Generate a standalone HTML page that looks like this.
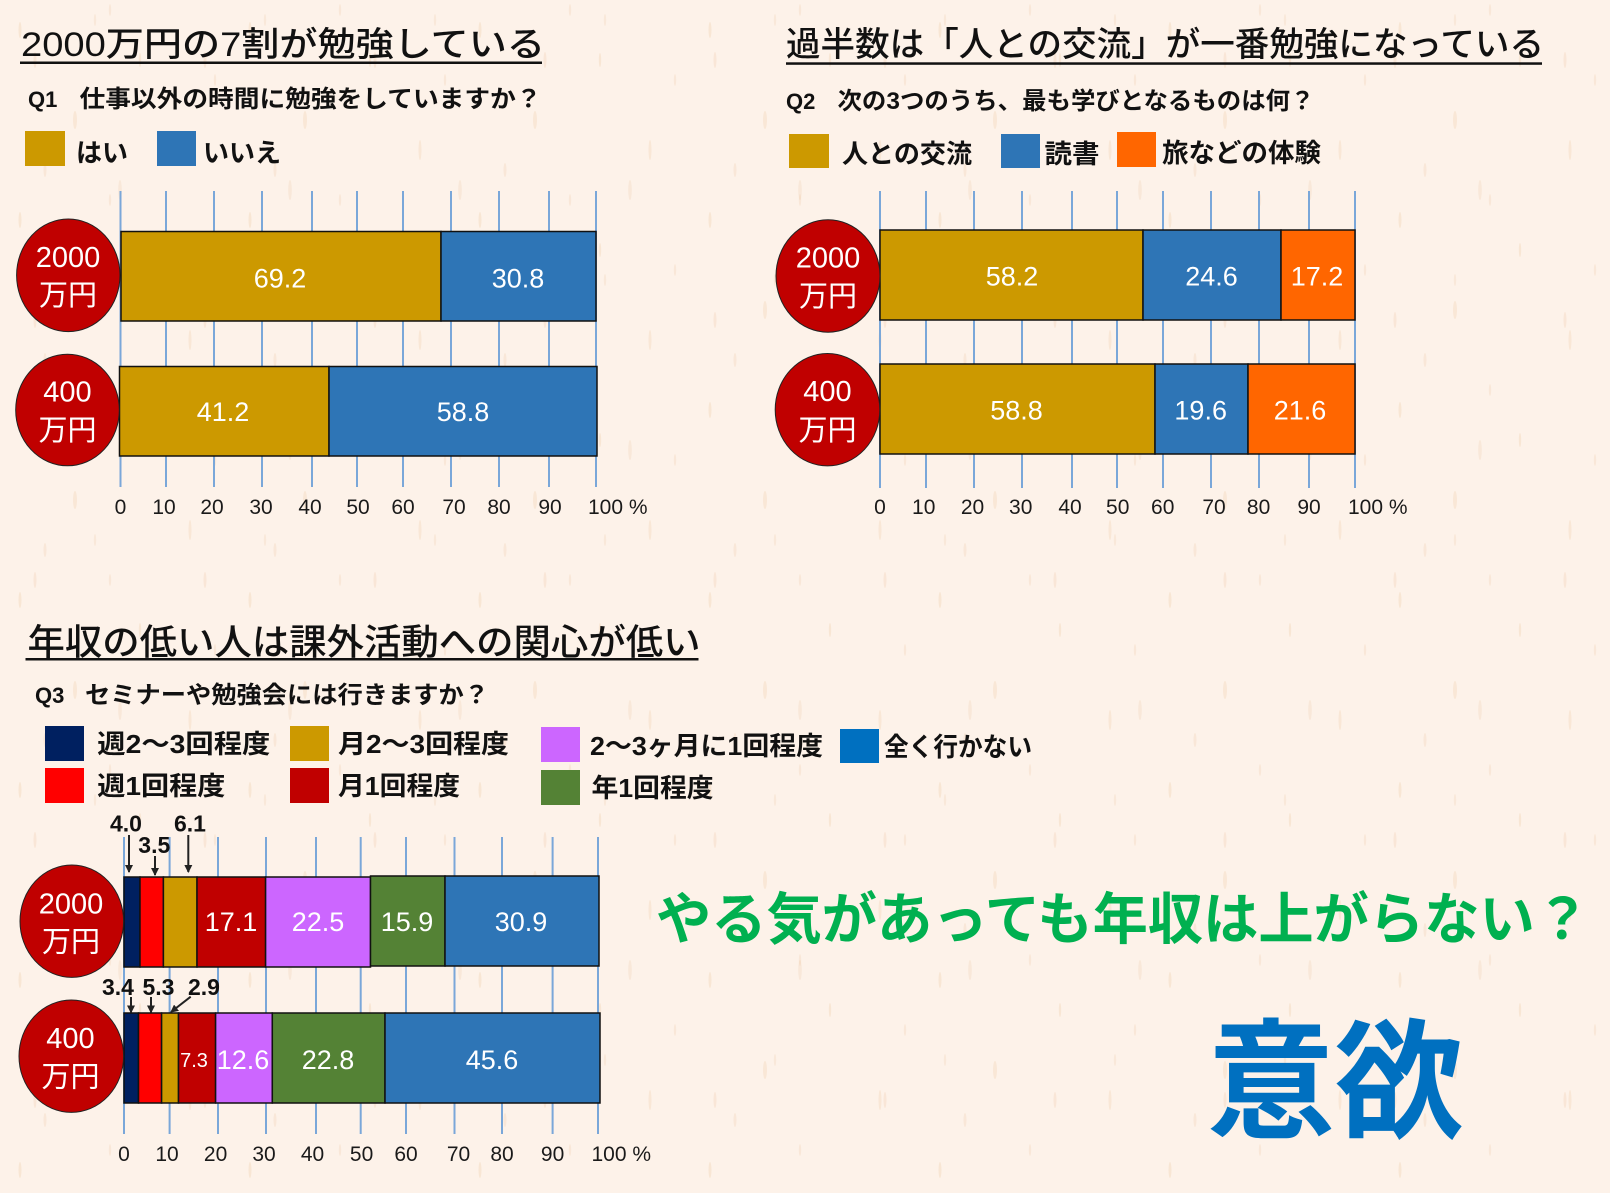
<!DOCTYPE html>
<html><head><meta charset="utf-8">
<style>
html,body{margin:0;padding:0;width:1610px;height:1196px;overflow:hidden;background:#fdf2e9;}
svg{display:block}
text{font-family:"Liberation Sans","Noto Sans CJK JP",sans-serif;}
.tk{font-size:21px;fill:#1a1a1a;text-anchor:middle;}
.tk100{font-size:21px;fill:#1a1a1a;}
.bl{font-size:27px;fill:#fff;text-anchor:middle;}
.cl{font-size:29px;fill:#fff;text-anchor:middle;}
.ann{font-size:23px;font-weight:bold;fill:#111;}
.lg{font-size:26px;font-weight:bold;fill:#111;}
</style></head><body>
<svg width="1610" height="1196" viewBox="0 0 1610 1196" xmlns="http://www.w3.org/2000/svg">
<defs>
<pattern id="sp" width="230" height="190" patternUnits="userSpaceOnUse">
<ellipse cx="20" cy="30" rx="1.5" ry="8" fill="#eab98a" opacity="0.22"/>
<ellipse cx="75" cy="120" rx="2" ry="9" fill="#eab98a" opacity="0.2"/>
<ellipse cx="140" cy="60" rx="1.2" ry="7" fill="#eab98a" opacity="0.22"/>
<ellipse cx="190" cy="150" rx="1.5" ry="10" fill="#eab98a" opacity="0.2"/>
<ellipse cx="110" cy="10" rx="1.2" ry="6" fill="#eab98a" opacity="0.18"/>
<ellipse cx="45" cy="170" rx="1.5" ry="7" fill="#eab98a" opacity="0.18"/>
<ellipse cx="215" cy="80" rx="1.2" ry="6" fill="#eab98a" opacity="0.18"/>
</pattern>
<pattern id="sp2" width="170" height="260" patternUnits="userSpaceOnUse">
<ellipse cx="35" cy="60" rx="1.5" ry="8" fill="#e8b383" opacity="0.18"/>
<ellipse cx="120" cy="190" rx="1.8" ry="10" fill="#e8b383" opacity="0.16"/>
<ellipse cx="95" cy="20" rx="1.2" ry="6" fill="#e8b383" opacity="0.16"/>
</pattern>
<marker id="ah" markerWidth="8" markerHeight="8" refX="7" refY="4" orient="auto" markerUnits="userSpaceOnUse">
<path d="M0,0 L8,4 L0,8 Z" fill="#222"/>
</marker>
</defs>
<rect width="1610" height="1196" fill="#fdf2e9"/>
<rect width="1610" height="1193" fill="url(#sp)"/>
<rect width="1610" height="1193" fill="url(#sp2)"/>
<rect y="1193" width="1610" height="3" fill="#ffffff"/>

<!-- ===== Q1 ===== -->
<text x="21" y="56" font-size="34" font-weight="500" textLength="524" lengthAdjust="spacingAndGlyphs" fill="#111">2000万円の7割が勉強している</text>
<rect x="20" y="61.5" width="522" height="2.5" fill="#111"/>
<text x="28" y="107" font-size="22" font-weight="bold" fill="#111">Q1</text>
<text x="79.5" y="107" font-size="24" font-weight="bold" fill="#111" textLength="462" lengthAdjust="spacingAndGlyphs">仕事以外の時間に勉強をしていますか？</text>
<rect x="25" y="131" width="40" height="35" fill="#cc9900"/>
<text class="lg" x="76" y="162" textLength="52" lengthAdjust="spacingAndGlyphs">はい</text>
<rect x="157" y="131" width="39" height="35" fill="#2e75b6"/>
<text class="lg" x="203" y="162" textLength="78" lengthAdjust="spacingAndGlyphs">いいえ</text>

<g stroke="#7aa7d9" stroke-width="2">
<line x1="120.5" y1="191" x2="120.5" y2="487"/><line x1="166" y1="191" x2="166" y2="487"/>
<line x1="214" y1="191" x2="214" y2="487"/><line x1="262" y1="191" x2="262" y2="487"/>
<line x1="312" y1="191" x2="312" y2="487"/><line x1="357" y1="191" x2="357" y2="487"/>
<line x1="403" y1="191" x2="403" y2="487"/><line x1="451" y1="191" x2="451" y2="487"/>
<line x1="499" y1="191" x2="499" y2="487"/><line x1="549" y1="191" x2="549" y2="487"/>
<line x1="596" y1="191" x2="596" y2="487"/>
</g>
<g stroke="#111" stroke-width="1.5">
<rect x="121" y="231.5" width="320" height="89.5" fill="#cc9900"/>
<rect x="441" y="231.5" width="155" height="89.5" fill="#2e75b6"/>
<rect x="119.5" y="366.5" width="209.5" height="89.5" fill="#cc9900"/>
<rect x="329" y="366.5" width="268" height="89.5" fill="#2e75b6"/>
</g>
<text class="bl" x="280" y="287.5">69.2</text>
<text class="bl" x="518" y="287.5">30.8</text>
<text class="bl" x="223" y="421">41.2</text>
<text class="bl" x="463" y="421">58.8</text>
<ellipse cx="68.3" cy="275.3" rx="51.7" ry="56.3" fill="#c00000" stroke="#222" stroke-width="1"/>
<ellipse cx="67.5" cy="410" rx="51.8" ry="55.8" fill="#c00000" stroke="#222" stroke-width="1"/>
<text class="cl" x="68" y="267">2000</text>
<text class="cl" x="68" y="305">万円</text>
<text class="cl" x="67.5" y="401.5">400</text>
<text class="cl" x="67.5" y="440">万円</text>
<g>
<text class="tk" x="120.5" y="514">0</text><text class="tk" x="164" y="514">10</text>
<text class="tk" x="212" y="514">20</text><text class="tk" x="261" y="514">30</text>
<text class="tk" x="310" y="514">40</text><text class="tk" x="358" y="514">50</text>
<text class="tk" x="403" y="514">60</text><text class="tk" x="454" y="514">70</text>
<text class="tk" x="499" y="514">80</text><text class="tk" x="550" y="514">90</text>
<text class="tk100" x="588" y="514">100 %</text>
</g>

<!-- ===== Q2 ===== -->
<text x="786" y="56" font-size="34" font-weight="500" textLength="758" lengthAdjust="spacingAndGlyphs" fill="#111">過半数は「人との交流」が一番勉強になっている</text>
<rect x="786" y="62.3" width="756" height="2.5" fill="#111"/>
<text x="786" y="109" font-size="22" font-weight="bold" fill="#111">Q2</text>
<text x="837.5" y="109" font-size="24" font-weight="bold" fill="#111" textLength="477" lengthAdjust="spacingAndGlyphs">次の3つのうち、最も学びとなるものは何？</text>
<rect x="789" y="134" width="40" height="34" fill="#cc9900"/>
<text class="lg" x="842" y="163" textLength="130" lengthAdjust="spacingAndGlyphs">人との交流</text>
<rect x="1001" y="134" width="39" height="34" fill="#2e75b6"/>
<text class="lg" x="1044.5" y="163" textLength="55" lengthAdjust="spacingAndGlyphs">読書</text>
<rect x="1117" y="132" width="39" height="35" fill="#ff6600"/>
<text class="lg" x="1162" y="162" textLength="159" lengthAdjust="spacingAndGlyphs">旅などの体験</text>

<g stroke="#7aa7d9" stroke-width="2">
<line x1="880" y1="191" x2="880" y2="488"/><line x1="926" y1="191" x2="926" y2="488"/>
<line x1="974" y1="191" x2="974" y2="488"/><line x1="1022" y1="191" x2="1022" y2="488"/>
<line x1="1072" y1="191" x2="1072" y2="488"/><line x1="1117" y1="191" x2="1117" y2="488"/>
<line x1="1163" y1="191" x2="1163" y2="488"/><line x1="1211" y1="191" x2="1211" y2="488"/>
<line x1="1259" y1="191" x2="1259" y2="488"/><line x1="1309" y1="191" x2="1309" y2="488"/>
<line x1="1355" y1="191" x2="1355" y2="488"/>
</g>
<g stroke="#111" stroke-width="1.5">
<rect x="880" y="230" width="263" height="90" fill="#cc9900"/>
<rect x="1143" y="230" width="138" height="90" fill="#2e75b6"/>
<rect x="1281" y="230" width="74" height="90" fill="#ff6600"/>
<rect x="880" y="364" width="275" height="90" fill="#cc9900"/>
<rect x="1155" y="364" width="93" height="90" fill="#2e75b6"/>
<rect x="1248" y="364" width="107" height="90" fill="#ff6600"/>
</g>
<text class="bl" x="1012" y="285.5">58.2</text>
<text class="bl" x="1211.5" y="285.5">24.6</text>
<text class="bl" x="1317" y="285.5">17.2</text>
<text class="bl" x="1016.5" y="419.5">58.8</text>
<text class="bl" x="1200.7" y="419.5">19.6</text>
<text class="bl" x="1300" y="419.5">21.6</text>
<ellipse cx="828" cy="276" rx="52" ry="56.2" fill="#c00000" stroke="#222" stroke-width="1"/>
<ellipse cx="827.5" cy="409.7" rx="52.3" ry="56.2" fill="#c00000" stroke="#222" stroke-width="1"/>
<text class="cl" x="828" y="267.5">2000</text>
<text class="cl" x="828" y="306">万円</text>
<text class="cl" x="827.5" y="401">400</text>
<text class="cl" x="827.5" y="440">万円</text>
<g>
<text class="tk" x="880" y="514">0</text><text class="tk" x="923.7" y="514">10</text>
<text class="tk" x="972.5" y="514">20</text><text class="tk" x="1020.7" y="514">30</text>
<text class="tk" x="1070" y="514">40</text><text class="tk" x="1117.7" y="514">50</text>
<text class="tk" x="1162.7" y="514">60</text><text class="tk" x="1214" y="514">70</text>
<text class="tk" x="1258.6" y="514">80</text><text class="tk" x="1309" y="514">90</text>
<text class="tk100" x="1348" y="514">100 %</text>
</g>

<!-- ===== Q3 ===== -->
<text x="27.5" y="654.5" font-size="36" font-weight="500" textLength="673" lengthAdjust="spacingAndGlyphs" fill="#111">年収の低い人は課外活動への関心が低い</text>
<rect x="25.5" y="658" width="673" height="2.5" fill="#111"/>
<text x="35" y="703" font-size="22" font-weight="bold" fill="#111">Q3</text>
<text x="85" y="703" font-size="24" font-weight="bold" fill="#111" textLength="404" lengthAdjust="spacingAndGlyphs">セミナーや勉強会には行きますか？</text>

<rect x="45" y="726" width="39" height="35" fill="#002060"/>
<text class="lg" x="97.3" y="753" textLength="173" lengthAdjust="spacingAndGlyphs">週2～3回程度</text>
<rect x="45" y="768" width="39" height="35" fill="#ff0000"/>
<text class="lg" x="97.3" y="795" textLength="128" lengthAdjust="spacingAndGlyphs">週1回程度</text>
<rect x="290" y="726" width="39" height="35" fill="#cc9900"/>
<text class="lg" x="338" y="753" textLength="171" lengthAdjust="spacingAndGlyphs">月2～3回程度</text>
<rect x="290" y="768" width="39" height="35" fill="#c00000"/>
<text class="lg" x="338" y="795" textLength="122" lengthAdjust="spacingAndGlyphs">月1回程度</text>
<rect x="541" y="727" width="39" height="35" fill="#cc66ff"/>
<text class="lg" x="590" y="755" textLength="233" lengthAdjust="spacingAndGlyphs">2～3ヶ月に1回程度</text>
<rect x="541" y="770" width="39" height="35" fill="#548235"/>
<text class="lg" x="591.5" y="797" textLength="122" lengthAdjust="spacingAndGlyphs">年1回程度</text>
<rect x="840" y="729" width="39" height="34" fill="#0070c0"/>
<text class="lg" x="884" y="756" textLength="148" lengthAdjust="spacingAndGlyphs">全く行かない</text>

<g stroke="#7aa7d9" stroke-width="2">
<line x1="124" y1="837" x2="124" y2="1134"/><line x1="169.6" y1="837" x2="169.6" y2="1134"/>
<line x1="218" y1="837" x2="218" y2="1134"/><line x1="266" y1="837" x2="266" y2="1134"/>
<line x1="316" y1="837" x2="316" y2="1134"/><line x1="360.7" y1="837" x2="360.7" y2="1134"/>
<line x1="406" y1="837" x2="406" y2="1134"/><line x1="454.5" y1="837" x2="454.5" y2="1134"/>
<line x1="502" y1="837" x2="502" y2="1134"/><line x1="552.6" y1="837" x2="552.6" y2="1134"/>
<line x1="598" y1="837" x2="598" y2="1134"/>
</g>
<g stroke="#111" stroke-width="1.5">
<rect x="124" y="877" width="16" height="90" fill="#002060"/>
<rect x="140" y="877" width="23.4" height="90" fill="#ff0000"/>
<rect x="163.4" y="877" width="33.6" height="90" fill="#cc9900"/>
<rect x="197" y="877" width="68.6" height="90" fill="#c00000"/>
<rect x="265.6" y="877" width="104.9" height="90" fill="#cc66ff"/>
<rect x="370.5" y="876" width="74.5" height="90" fill="#548235"/>
<rect x="445" y="876" width="154" height="90" fill="#2e75b6"/>
<rect x="124" y="1013" width="14.5" height="90" fill="#002060"/>
<rect x="138.5" y="1013" width="23.1" height="90" fill="#ff0000"/>
<rect x="161.6" y="1013" width="16.9" height="90" fill="#cc9900"/>
<rect x="178.5" y="1013" width="37.1" height="90" fill="#c00000"/>
<rect x="215.6" y="1013" width="56.7" height="90" fill="#cc66ff"/>
<rect x="272.3" y="1013" width="112.7" height="90" fill="#548235"/>
<rect x="385" y="1013" width="215" height="90" fill="#2e75b6"/>
</g>
<text class="bl" x="231" y="931">17.1</text>
<text class="bl" x="318" y="931">22.5</text>
<text class="bl" x="407" y="931">15.9</text>
<text class="bl" x="521" y="931">30.9</text>
<text x="194" y="1067" font-size="20" fill="#fff" text-anchor="middle">7.3</text>
<text class="bl" x="243" y="1069">12.6</text>
<text class="bl" x="328" y="1069">22.8</text>
<text class="bl" x="492" y="1069">45.6</text>

<text class="ann" x="110" y="831.5">4.0</text>
<text class="ann" x="138.3" y="853">3.5</text>
<text class="ann" x="174" y="831.5">6.1</text>
<text class="ann" x="102" y="995">3.4</text>
<text class="ann" x="142.5" y="995">5.3</text>
<text class="ann" x="188" y="995">2.9</text>
<g stroke="#222" stroke-width="2" marker-end="url(#ah)">
<line x1="129" y1="835" x2="129" y2="872"/>
<line x1="155" y1="856" x2="155" y2="875"/>
<line x1="188.3" y1="835" x2="188.3" y2="872"/>
<line x1="131" y1="997" x2="131" y2="1012.5"/>
<line x1="151" y1="997" x2="151" y2="1012.5"/>
<line x1="190.7" y1="996.7" x2="171" y2="1012"/>
</g>

<ellipse cx="71.8" cy="921.2" rx="51.8" ry="56.2" fill="#c00000" stroke="#222" stroke-width="1"/>
<ellipse cx="71.3" cy="1056.2" rx="52.3" ry="56.2" fill="#c00000" stroke="#222" stroke-width="1"/>
<text class="cl" x="71" y="913.5">2000</text>
<text class="cl" x="71" y="951.5">万円</text>
<text class="cl" x="70.5" y="1048">400</text>
<text class="cl" x="70.5" y="1086.5">万円</text>
<g>
<text class="tk" x="124" y="1161">0</text><text class="tk" x="167" y="1161">10</text>
<text class="tk" x="215.6" y="1161">20</text><text class="tk" x="264" y="1161">30</text>
<text class="tk" x="312.5" y="1161">40</text><text class="tk" x="361.6" y="1161">50</text>
<text class="tk" x="406" y="1161">60</text><text class="tk" x="458.5" y="1161">70</text>
<text class="tk" x="502" y="1161">80</text><text class="tk" x="552.6" y="1161">90</text>
<text class="tk100" x="591.5" y="1161">100 %</text>
</g>

<!-- ===== Message ===== -->
<text x="656" y="939" font-size="56" font-weight="bold" fill="#00b050" textLength="934" lengthAdjust="spacingAndGlyphs">やる気があっても年収は上がらない？</text>
<text x="1207" y="1128" font-size="130" font-weight="bold" fill="#0070c0" textLength="256" lengthAdjust="spacingAndGlyphs">意欲</text>
</svg>
</body></html>
